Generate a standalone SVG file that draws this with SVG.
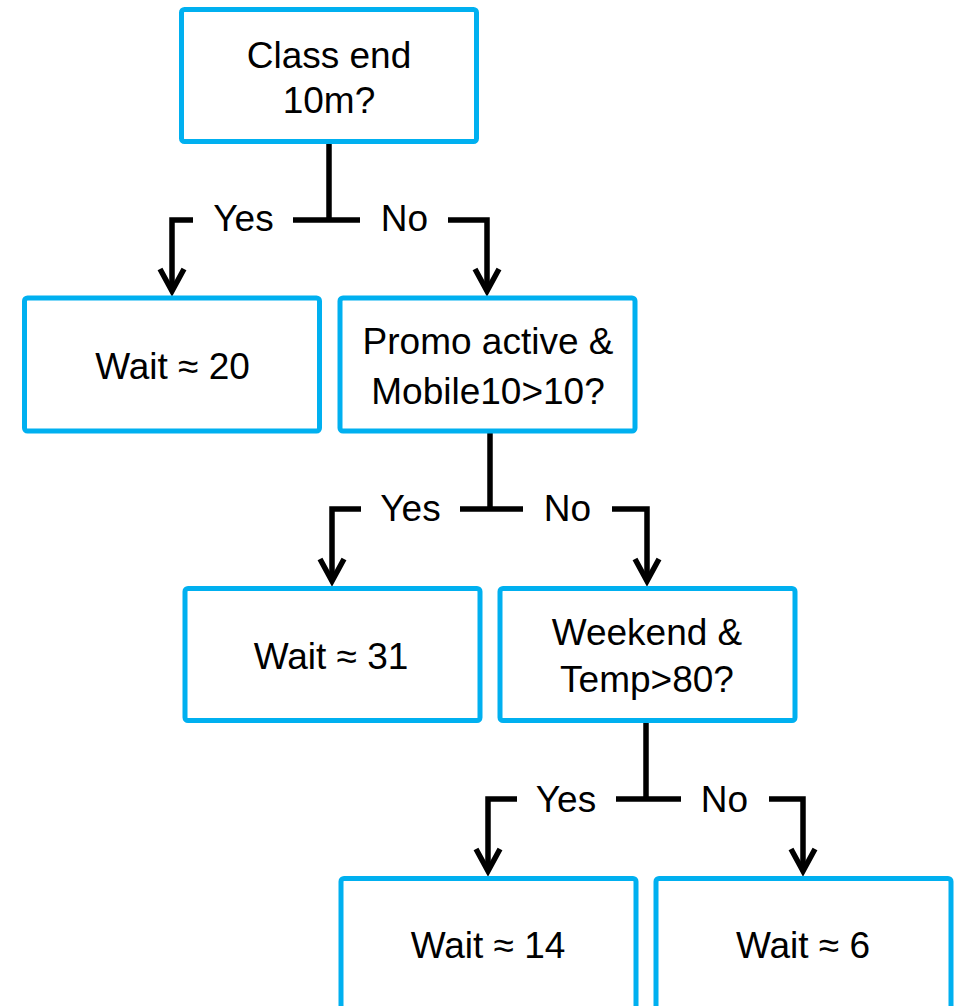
<svg xmlns="http://www.w3.org/2000/svg" width="964" height="1006" viewBox="0 0 964 1006">
<style>
.box{fill:#ffffff;stroke:#00B0F0;stroke-width:5}
.t{font-family:"Liberation Sans",Arial,Helvetica,sans-serif;font-size:37px;fill:#000;text-anchor:middle}
.c{fill:none;stroke:#000;stroke-width:5.5;stroke-linejoin:miter}
</style>
<defs>
<marker id="arr" markerUnits="userSpaceOnUse" viewBox="-30 -16 40 32" markerWidth="40" markerHeight="32" refX="0" refY="0" orient="auto" overflow="visible">
<path d="M -22 -12 L 0 0 L -22 12" fill="none" stroke="#000" stroke-width="5.5" stroke-linejoin="miter"/>
</marker>
</defs>
<rect width="964" height="1006" fill="#fff"/>
<g id="connectors">
<path class="c" d="M 329 144 V 220 M 293 220 H 360"/>
<path class="c" d="M 193 220 H 172 V 291" marker-end="url(#arr)"/>
<path class="c" d="M 448 220 H 487 V 291" marker-end="url(#arr)"/>
<path class="c" d="M 490 433 V 509 M 460 509 H 523"/>
<path class="c" d="M 361 509 H 332 V 581" marker-end="url(#arr)"/>
<path class="c" d="M 612 509 H 647 V 581" marker-end="url(#arr)"/>
<path class="c" d="M 646 723 V 799 M 616 799 H 681"/>
<path class="c" d="M 517 799 H 488 V 871" marker-end="url(#arr)"/>
<path class="c" d="M 769 799 H 803 V 871" marker-end="url(#arr)"/>
<text class="t" x="243.5" y="231">Yes</text>
<text class="t" x="404.5" y="231">No</text>
<text class="t" x="410.5" y="521">Yes</text>
<text class="t" x="567.5" y="521">No</text>
<text class="t" x="566" y="812">Yes</text>
<text class="t" x="724.5" y="812">No</text>
</g>
<g id="n-class-end">
<rect class="box" x="181.5" y="9.5" width="295" height="132" rx="3"/>
<text class="t" x="329" y="68">Class end</text>
<text class="t" x="329" y="113">10m?</text>
</g>
<g id="n-wait20">
<rect class="box" x="24.5" y="298" width="295" height="133" rx="3"/>
<text class="t" x="172.5" y="379">Wait ≈ 20</text>
</g>
<g id="n-promo">
<rect class="box" x="340" y="298" width="295" height="133" rx="3"/>
<text class="t" x="488" y="354">Promo active &amp;</text>
<text class="t" x="488" y="404">Mobile10&gt;10?</text>
</g>
<g id="n-wait31">
<rect class="box" x="185" y="588.5" width="295" height="132" rx="3"/>
<text class="t" x="331" y="669">Wait ≈ 31</text>
</g>
<g id="n-weekend">
<rect class="box" x="500" y="588.5" width="295" height="132" rx="3"/>
<text class="t" x="647" y="645">Weekend &amp;</text>
<text class="t" x="647" y="692">Temp&gt;80?</text>
</g>
<g id="n-wait14">
<rect class="box" x="341" y="878.5" width="295" height="133" rx="3"/>
<text class="t" x="488" y="958">Wait ≈ 14</text>
</g>
<g id="n-wait6">
<rect class="box" x="656" y="878.5" width="295" height="133" rx="3"/>
<text class="t" x="803" y="958">Wait ≈ 6</text>
</g>
</svg>
